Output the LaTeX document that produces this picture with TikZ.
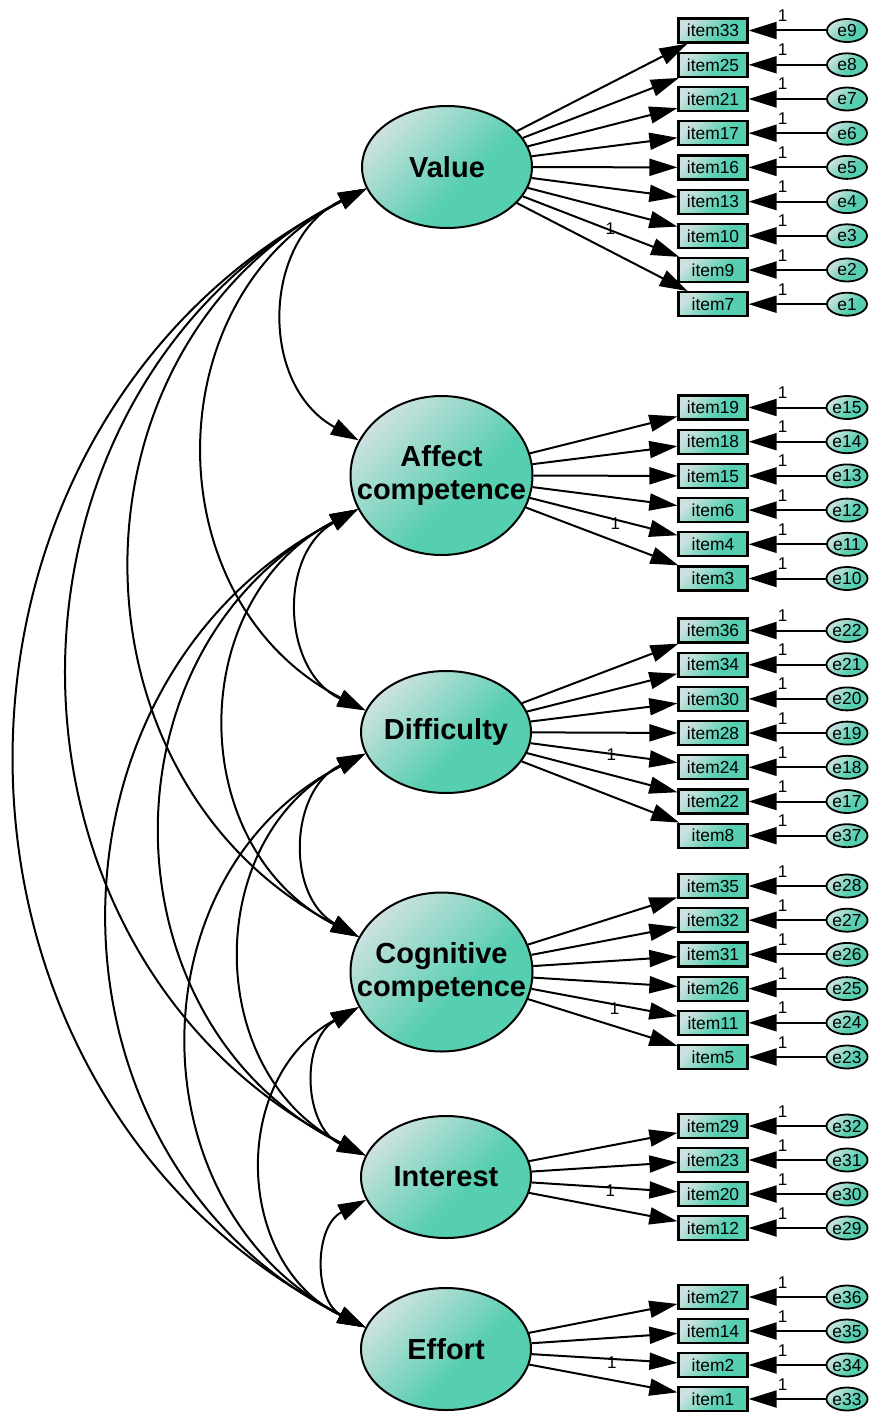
\documentclass[tikz,border=0pt]{standalone}
\usepackage{fontspec}
\setmainfont{Liberation Sans}
\usetikzlibrary{arrows.meta,shapes.geometric}
\definecolor{amosLight}{RGB}{205,226,224}
\definecolor{amosTeal}{RGB}{86,206,176}
\pgfdeclarehorizontalshading{amos}{100bp}{color(0bp)=(amosLight); color(25bp)=(amosLight); color(58bp)=(amosTeal); color(100bp)=(amosTeal)}
\newcommand\LatFont{\fontsize{14.5}{16.5}\selectfont\bfseries}
\newcommand\ItFont{\fontsize{8.7}{8.7}\selectfont}
\begin{document}
\begin{tikzpicture}[x=0.5pt,y=-0.5pt,
  latent/.style={ellipse, draw, line width=1pt, shade, shading=amos, shading angle=-45, inner sep=0pt},
  lsmall/.style={latent, minimum width=85pt, minimum height=61pt},
  lbig/.style={latent, minimum width=91pt, minimum height=79.5pt},
  item/.style={rectangle, draw, line width=1.1pt, shade, shading=amos, shading angle=-45, minimum width=34.5pt, minimum height=12pt, inner sep=0pt, font=\ItFont},
  err/.style={ellipse, draw, line width=0.9pt, shade, shading=amos, shading angle=-45, minimum width=20pt, minimum height=11.5pt, inner sep=0pt, font=\ItFont},
  arr/.style={line width=1pt, -{Triangle[length=14pt,width=8.5pt]}},
  cov/.style={line width=1pt, {Triangle[length=14pt,width=8.5pt]}-{Triangle[length=14pt,width=8.5pt]}, bend right=63, looseness=1.17},
  one/.style={font=\fontsize{8.5}{8.5}\selectfont, inner sep=0pt}
]
\useasboundingbox (0,0) rectangle (872,1413);

% latent variables
\node[lsmall, label={[font=\LatFont]center:Value}] (Value) at (447,167) {};
\node[lbig, label={[font=\LatFont, align=center]center:{Affect\\competence}}] (Affect) at (441.5,475.5) {};
\node[lsmall, label={[font=\LatFont]center:Difficulty}] (Difficulty) at (446,732) {};
\node[lbig, label={[font=\LatFont, align=center]center:{Cognitive\\competence}}] (Cognitive) at (441.5,972) {};
\node[lsmall, label={[font=\LatFont]center:Interest}] (Interest) at (446,1177) {};
\node[lsmall, label={[font=\LatFont]center:Effort}] (Effort) at (446,1349) {};

% indicators and errors
\foreach \lat/\list in {
  Value/{33/9/30.5, 25/8/64.8, 21/7/99, 17/6/133.2, 16/5/167.4, 13/4/201.6, 10/3/235.8, 9/2/270, 7/1/304.2},
  Affect/{19/15/407.5, 18/14/441.7, 15/13/475.9, 6/12/510.1, 4/11/544.3, 3/10/578.5},
  Difficulty/{36/22/630.5, 34/21/664.7, 30/20/698.9, 28/19/733.1, 24/18/767.3, 22/17/801.5, 8/37/835.7},
  Cognitive/{35/28/886, 32/27/920.2, 31/26/954.4, 26/25/988.6, 11/24/1022.8, 5/23/1057},
  Interest/{29/32/1126, 23/31/1160, 20/30/1194, 12/29/1228},
  Effort/{27/36/1297, 14/35/1331, 2/34/1365, 1/33/1399}} {
  \foreach \it/\er/\y in \list {
    \node[item] (item\it) at (713,\y) {item\it};
    \node[err] (e\er) at (847,\y) {e\er};
    \draw[arr] (e\er) -- node[one, pos=0.56, above=4pt] {1} (item\it);
    \draw[arr] (\lat) -- (item\it);
  }
}

% fixed loadings
\path (Value) -- node[one, pos=0.56, yshift=1pt] {1} (item9);
\path (Affect) -- node[one, pos=0.58, yshift=-2pt] {1} (item4);
\path (Difficulty) -- node[one, pos=0.55, yshift=-0.5pt] {1} (item24);
\path (Cognitive) -- node[one, pos=0.57, yshift=-2pt] {1} (item11);
\path (Interest) -- node[one, pos=0.54, yshift=-1.5pt] {1} (item20);
\path (Effort) -- node[one, pos=0.55, yshift=-2pt] {1} (item2);

% covariances
\draw[cov] (Value.195) to (Affect.157);
\draw[cov] (Value.195) to (Difficulty.165);
\draw[cov] (Value.195) to (Cognitive.157);
\draw[cov] (Value.195) to (Interest.165);
\draw[cov] (Value.195) to (Effort.165);
\draw[cov] (Affect.202) to (Difficulty.165);
\draw[cov] (Affect.202) to (Cognitive.157);
\draw[cov] (Affect.202) to (Interest.165);
\draw[cov] (Affect.202) to (Effort.165);
\draw[cov] (Difficulty.195) to (Cognitive.157);
\draw[cov] (Difficulty.195) to (Interest.165);
\draw[cov] (Difficulty.195) to (Effort.165);
\draw[cov] (Cognitive.203) to (Interest.165);
\draw[cov] (Cognitive.203) to (Effort.165);
\draw[cov] (Interest.196) to (Effort.165);
\end{tikzpicture}
\end{document}
